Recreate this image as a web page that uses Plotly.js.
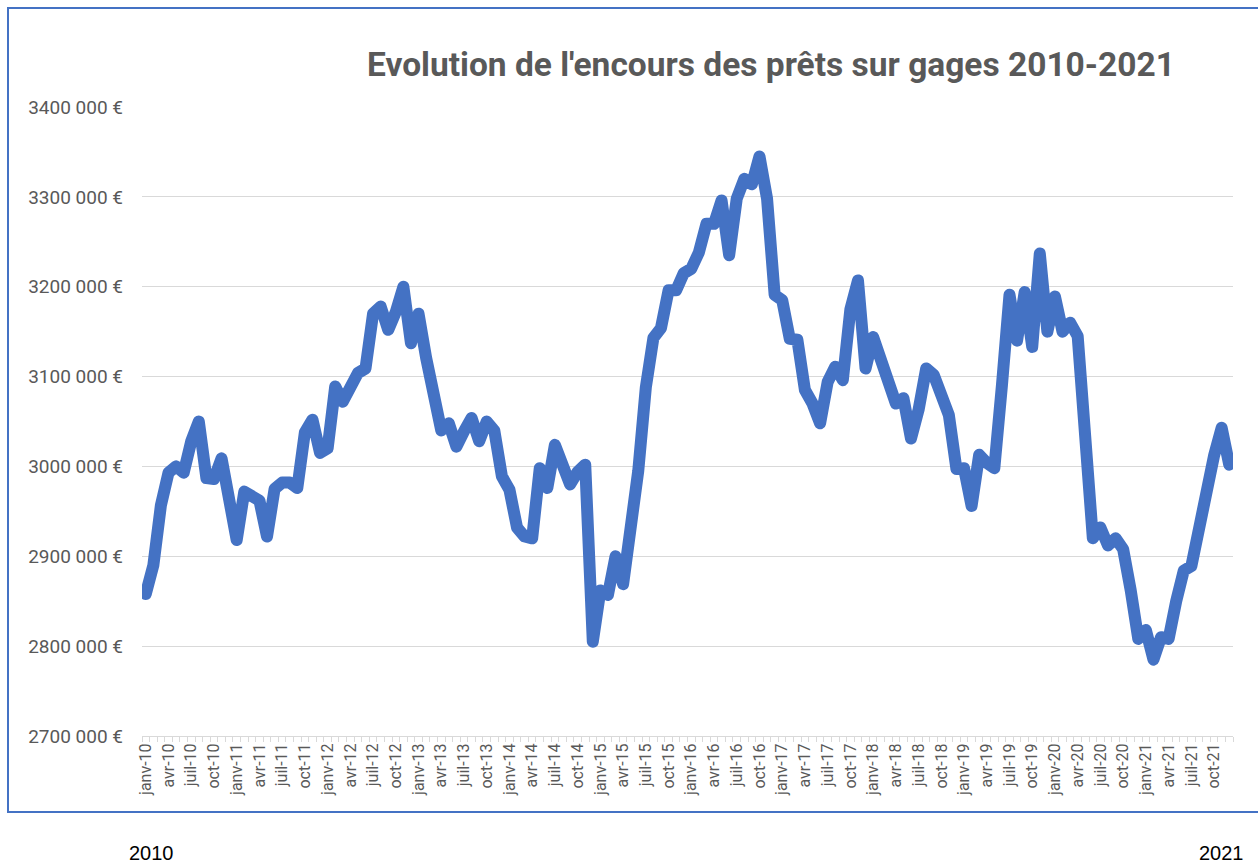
<!DOCTYPE html>
<html>
<head>
<meta charset="utf-8">
<script src="https://cdn.plot.ly/plotly-3.0.1.min.js"></script>
<style>
  html, body { margin: 0; padding: 0; background: #ffffff; }
  #chart { width: 1258px; height: 865px; }
  .js-line { stroke-linejoin: round !important; stroke-linecap: round !important; }
</style>
</head>
<body>
<div id="chart"></div>
<script>
// Month names (French, Excel style) and years
const monthNames = ["janv", "févr", "mars", "avr", "mai", "juin", "juil", "août", "sept", "oct", "nov", "déc"];
const years = ["10", "11", "12", "13", "14", "15", "16", "17", "18", "19", "20", "21"];
const months = years.flatMap(y => monthNames.map(m => m + "-" + y));

// Outstanding amount of pawn loans (€), monthly janv-10 .. déc-21
const encours = [
  2858000, 2890000, 2957000, 2993000, 3000000, 2993000, 3028000, 3050000, 2987000, 2986000, 3009000, 2957000,
  2918000, 2972000, 2968000, 2962000, 2922000, 2975000, 2982000, 2982000, 2976000, 3038000, 3052000, 3015000,
  3020000, 3089000, 3072000, 3090000, 3104000, 3109000, 3170000, 3178000, 3152000, 3172000, 3200000, 3137000,
  3170000, 3121000, 3078000, 3040000, 3048000, 3022000, 3039000, 3054000, 3028000, 3050000, 3040000, 2989000,
  2974000, 2932000, 2922000, 2920000, 2998000, 2976000, 3024000, 3004000, 2980000, 2994000, 3002000, 2805000,
  2862000, 2857000, 2900000, 2869000, 2935000, 2995000, 3088000, 3143000, 3154000, 3196000, 3196000, 3215000,
  3220000, 3238000, 3270000, 3270000, 3296000, 3235000, 3298000, 3320000, 3314000, 3345000, 3298000, 3191000,
  3185000, 3142000, 3141000, 3085000, 3070000, 3048000, 3094000, 3111000, 3096000, 3175000, 3207000, 3109000,
  3144000, 3117000, 3090000, 3070000, 3076000, 3031000, 3063000, 3109000, 3102000, 3074000, 3057000, 2997000,
  2998000, 2956000, 3013000, 3004000, 2998000, 3090000, 3191000, 3140000, 3194000, 3133000, 3237000, 3150000,
  3189000, 3150000, 3160000, 3145000, 3030000, 2920000, 2932000, 2912000, 2920000, 2908000, 2862000, 2808000,
  2818000, 2785000, 2810000, 2808000, 2850000, 2884000, 2889000, 2933000, 2978000, 3012000, 3043000, 3002000
];

// Axis ticks
const xTickText = months.map((m, i) => (i % 3 === 0 ? m : ""));
const yTickVals = [2700000, 2800000, 2900000, 3000000, 3100000, 3200000, 3300000, 3400000];
const yTickText = ["2700 000 €", "2800 000 €", "2900 000 €", "3000 000 €", "3100 000 €", "3200 000 €", "3300 000 €", "3400 000 €"];

const titleText = "Evolution de l'encours des prêts sur gages 2010-2021";
const startLabel = "2010";
const endLabel = "2021";

const trace = {
  type: "scatter",
  mode: "lines",
  x: months,
  y: encours,
  line: { color: "#4472C4", width: 12 },
  hoverinfo: "x+y"
};

const layout = {
  width: 1258,
  height: 865,
  paper_bgcolor: "#ffffff",
  plot_bgcolor: "#ffffff",
  showlegend: false,
  margin: { l: 142, r: 25, t: 107, b: 129 },
  title: {
    text: titleText,
    font: { family: "Roboto, Open Sans, sans-serif", size: 33.5, color: "#595959", weight: 700 },
    xref: "container", yref: "container",
    x: 771 / 1258, xanchor: "center",
    y: 1 - 64 / 865, yanchor: "middle"
  },
  xaxis: {
    type: "category",
    range: [-0.5, 143.5],
    tickmode: "array",
    tickvals: months,
    ticktext: xTickText,
    tickson: "boundaries",
    ticks: "outside",
    ticklen: 5,
    tickcolor: "#D9D9D9",
    tickwidth: 1,
    tickangle: -90,
    showline: true,
    linecolor: "#D9D9D9",
    linewidth: 1,
    showgrid: false,
    zeroline: false,
    tickfont: { family: "Roboto, Open Sans, sans-serif", size: 16, color: "#595959" },
    fixedrange: true
  },
  yaxis: {
    range: [2700000, 3400000],
    tickmode: "array",
    tickvals: yTickVals,
    ticktext: yTickText,
    showgrid: true,
    gridcolor: "#D9D9D9",
    gridwidth: 1,
    zeroline: false,
    showline: false,
    ticks: "",
    ticklabelstandoff: 18,
    tickfont: { family: "Roboto, Open Sans, sans-serif", size: 19, color: "#595959" },
    fixedrange: true
  },
  shapes: [{
    type: "rect", xref: "paper", yref: "paper",
    x0: (8 - 142) / 1091, x1: (1275 - 142) / 1091,
    y0: (736 - 812) / 629, y1: (736 - 8) / 629,
    line: { color: "#4472C4", width: 2 },
    fillcolor: "rgba(0,0,0,0)",
    layer: "below"
  }],
  annotations: [
    {
      text: startLabel, xref: "paper", yref: "paper",
      x: (151 - 142) / 1091, y: (736 - 853) / 629,
      xanchor: "center", yanchor: "middle", showarrow: false,
      font: { family: "Liberation Sans, Arial, sans-serif", size: 20, color: "#000000" }
    },
    {
      text: endLabel, xref: "paper", yref: "paper",
      x: (1221 - 142) / 1091, y: (736 - 853) / 629,
      xanchor: "center", yanchor: "middle", showarrow: false,
      font: { family: "Liberation Sans, Arial, sans-serif", size: 20, color: "#000000" }
    }
  ]
};

Plotly.newPlot("chart", [trace], layout, { displayModeBar: false, staticPlot: true });
</script>
</body>
</html>
